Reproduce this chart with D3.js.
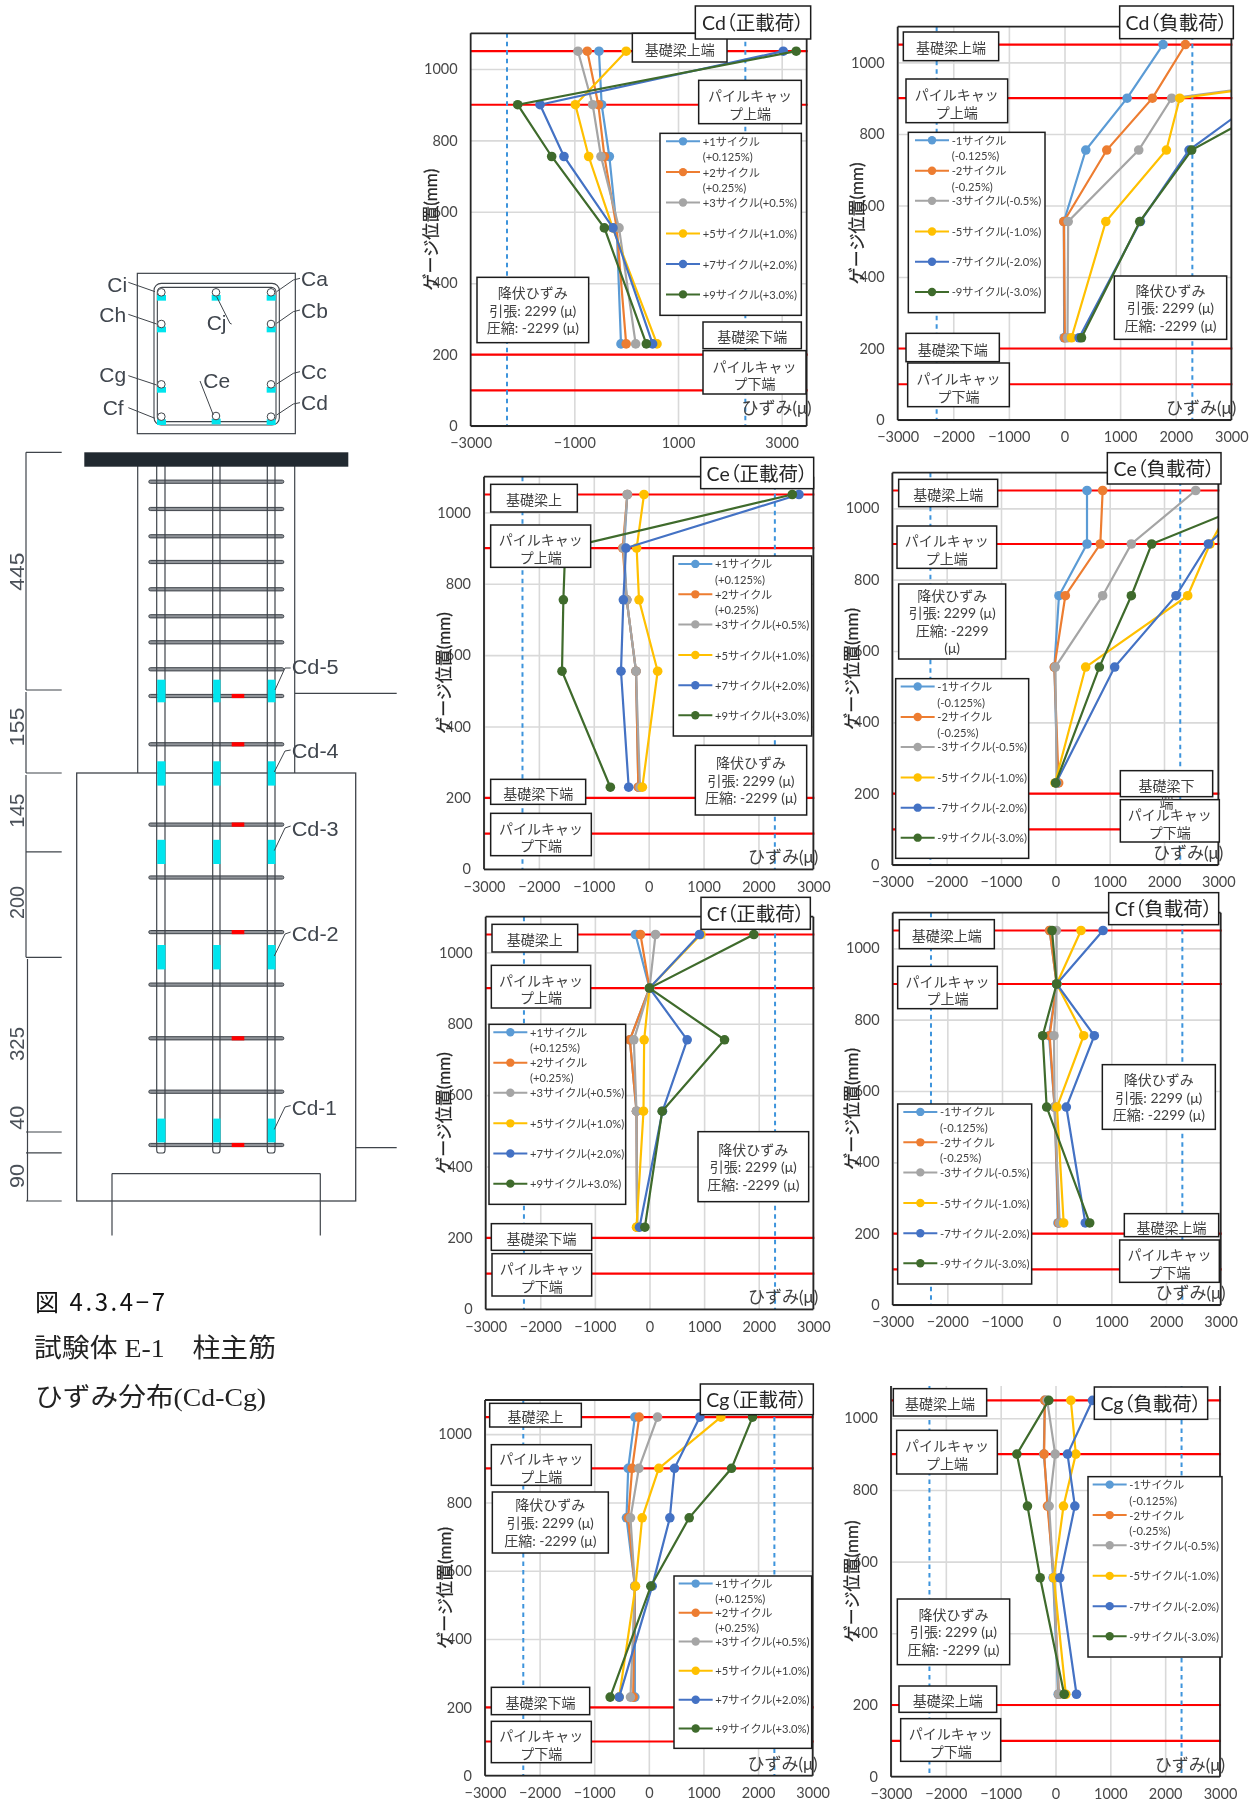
<!DOCTYPE html>
<html><head><meta charset="utf-8">
<script src="https://cdn.jsdelivr.net/npm/d3@7/dist/d3.min.js"></script>
<style>
html,body{margin:0;padding:0;background:#fff}
svg{display:block;filter:blur(.5px)}
text{font-family:Lato,"Noto Sans CJK JP",sans-serif}
.ttl{font-feature-settings:"palt"}
</style></head><body>
<svg id="c" width="1253" height="1807"></svg>
<script>
// ---------- data ----------
const gaugeHeights = [1050, 900, 755, 555, 230];
const redLevels = [1050, 900, 200, 100];
const yieldStrain = 2299;
const seriesColors = ["#5B9BD5", "#ED7D31", "#A5A5A5", "#FFC000", "#4472C4", "#3F6B2C"];
const yTicks = [0, 200, 400, 600, 800, 1000];
const xTicksAll = [-3000, -2000, -1000, 0, 1000, 2000, 3000];
const xTicksCd = [-3000, -1000, 1000, 3000];

const cdPos = [[-525,-473,-325,-183,-100],[-750,-537,-420,-183,0],[-930,-646,-486,-138,183],[0,-980,-723,-260,595],[3030,-1662,-1200,-254,510],[3280,-2093,-1437,-421,389]];
const cdNeg = [[1772,1126,383,-12,-6],[2174,1581,760,-12,6],[9300,1928,1335,66,54],[9300,2072,1832,743,126],[6000,3520,2240,1365,263],[6500,3988,2287,1353,305]];
const cePos = [[-389,-449,-400,-231,-188],[-389,-474,-400,-231,-188],[-389,-461,-400,-231,-158],[-85,-219,-176,164,-115],[2738,-413,-461,-504,-364],[2617,-1520,-1554,-1579,-698]];
const ceNeg = [[583,583,67,-18,43],[871,828,184,-18,61],[2583,1399,871,0,25],[3400,2847,2436,558,-6],[3900,2816,2221,1092,12],[4196,1773,1399,810,6]];
const cfPos = [[-256,0,-360,-238,-226],[-165,0,-360,-238,-226],[110,0,-287,-238,-226],[940,0,-98,-110,-238],[916,0,690,238,-183],[1911,0,1374,232,-85]];
const cfNeg = [[-128,0,-140,-37,24],[-128,0,-128,-37,37],[-6,0,-49,-37,55],[445,0,494,6,128],[848,0,689,177,524],[-85,0,-256,-183,604]];
const cgPos = [[-256,-378,-409,-256,-256],[-177,-305,-378,-256,-287],[159,-183,-336,-256,-336],[1319,183,-122,-244,-543],[934,470,385,61,-543],[1899,1514,739,37,-708]];
const cgNeg = [[-195,-213,-134,-43,49],[-195,-207,-146,-30,61],[-152,-6,-116,-36,61],[280,371,146,-30,188],[675,219,353,79,383],[-122,-705,-511,-280,158]];

const legendPos = ["+1サイクル","(+0.125%)","+2サイクル","(+0.25%)","+3サイクル(+0.5%)","+5サイクル(+1.0%)","+7サイクル(+2.0%)","+9サイクル(+3.0%)"];
const legendPosCf = ["+1サイクル","(+0.125%)","+2サイクル","(+0.25%)","+3サイクル(+0.5%)","+5サイクル(+1.0%)","+7サイクル(+2.0%)","+9サイクル+3.0%)"];
const legendNeg = ["-1サイクル","(-0.125%)","-2サイクル","(-0.25%)","-3サイクル(-0.5%)","-5サイクル(-1.0%)","-7サイクル(-2.0%)","-9サイクル(-3.0%)"];
const yieldLines = ["降伏ひずみ","引張: 2299 (μ)","圧縮: -2299 (μ)"];
const yieldLines4 = ["降伏ひずみ","引張: 2299 (μ)","圧縮: -2299","(μ)"];
const PU = ["パイルキャッ","プ上端"], PL = ["パイルキャッ","プ下端"];

// ---------- panel layout (in 3x crop units, relative to origin o) ----------
const panels = [
 {o:[420,0],values:cdPos,title:"Cd（正載荷）",legend:legendPos,xMax:3482,xT:xTicksCd,xG:[-1000,1000,3000],plot:[152,100,1160,1278],yt:30,sx:18,strainUp:19,
  tb:[826,18,1172,117],lg:[720,400,1144,946],
  boxes:[[637,100,921,186,["基礎梁上端"]],[836,241,1144,371,PU],[171,832,506,1028,yieldLines],[849,966,1144,1046,["基礎梁下端"]],[849,1052,1158,1182,PL]]},
 {o:[840,0],values:cdNeg,title:"Cd（負載荷）",legend:legendNeg,plot:[173,80,1174,1260],yt:48,sx:20,
  tb:[839,18,1180,116],lg:[205,397,615,938],
  boxes:[[190,96,476,182,["基礎梁上端"]],[198,237,503,368,PU],[823,828,1160,1018,yieldLines],[198,1000,478,1085,["基礎梁下端"]],[203,1089,508,1220,PL]]},
 {o:[420,450],values:cePos,title:"Ce（正載荷）",legend:legendPos,plot:[192,80,1180,1258],yt:70,sx:15,
  tb:[842,22,1181,116],lg:[760,318,1175,858],
  boxes:[[212,103,472,186,["基礎梁上"]],[212,225,512,352,PU],[826,886,1160,1095,yieldLines],[212,988,497,1063,["基礎梁下端"]],[212,1090,514,1217,PL]]},
 {o:[840,450],values:ceNeg,title:"Ce（負載荷）",legend:legendNeg,plot:[157,68,1135,1245],yt:35,sx:15,
  tb:[802,8,1143,102],lg:[167,686,566,1225],
  boxes:[[176,88,473,170,["基礎梁上端"]],[171,228,470,355,PU],[176,402,497,627,yieldLines4],[841,962,1118,1040,["基礎梁下","端"],1005],[841,1049,1138,1176,PL]]},
 {o:[420,890],values:cfPos,title:"Cf（正載荷）",legend:legendPosCf,plot:[197,80,1180,1258],yt:70,sx:13,
  tb:[843,22,1171,118],lg:[207,403,617,943],
  boxes:[[216,103,473,186,["基礎梁上"]],[214,226,512,354,PU],[834,725,1166,935,yieldLines],[214,1001,515,1081,["基礎梁下端"]],[216,1091,515,1218,PL]]},
 {o:[840,890],values:cfNeg,title:"Cf（負載荷）",legend:legendNeg,plot:[158,68,1142,1245],yt:35,sx:17,
  tb:[806,8,1136,104],lg:[173,642,575,1182],
  boxes:[[178,89,463,176,["基礎梁上端"]],[173,229,472,356,PU],[787,524,1126,718,yieldLines],[853,971,1136,1040,["基礎梁上端"],1013],[839,1050,1138,1177,PL]]},
 {o:[420,1370],values:cgPos,title:"Cg（正載荷）",legend:legendPos,plot:[195,90,1178,1217],yt:72,sx:14,
  tb:[841,42,1180,134],lg:[762,618,1175,1135],
  boxes:[[209,100,484,171,["基礎梁上"]],[214,224,514,346,PU],[217,366,565,549,yieldLines],[214,952,509,1034,["基礎梁下端"]],[214,1054,514,1178,PL]]},
 {o:[840,1370],values:cgNeg,title:"Cg（負載荷）",legend:legendNeg,plot:[153,48,1140,1220],yMax:1090,noTop:true,yt:35,sx:14,
  tb:[763,51,1103,148],lg:[744,320,1146,861],
  boxes:[[160,56,440,138,["基礎梁上端"]],[170,181,472,312,PU],[172,687,509,884,yieldLines],[177,948,470,1027,["基礎梁上端"]],[182,1046,482,1174,PL]]}
];
const legendRowsFrac = [.044,.13,.213,.298,.38,.55,.718,.885];
const legendSampleRows = [0,2,4,5,6,7];

const svg = d3.select("#c");
const z = v => v / 3;
const boxStroke = "#1c1c1c", txt = "#404040";

function drawPanel(p, i) {
  const g = svg.append("g").attr("transform", `translate(${p.o[0]},${p.o[1]})`);
  const [x0, y0, x1, y1] = p.plot.map(z);
  const xs = d3.scaleLinear().domain([-3000, p.xMax || 3000]).range([x0, x1]);
  const ys = d3.scaleLinear().domain([0, p.yMax || 1100]).range([y1, y0]);
  const cid = "clip" + i;
  g.append("clipPath").attr("id", cid).append("rect").attr("x", x0).attr("y", y0).attr("width", x1 - x0).attr("height", y1 - y0);

  // grid
  const gx = g.append("g").attr("transform", `translate(0,${y0})`)
    .call(d3.axisBottom(xs).tickValues(p.xG || xTicksAll).tickSize(y1 - y0).tickFormat(""));
  gx.select(".domain").remove();
  gx.selectAll("line").attr("stroke", "#d9d9d9").attr("stroke-width", 1.6);
  const gy = g.append("g").attr("transform", `translate(${x0},0)`)
    .call(d3.axisRight(ys).tickValues(yTicks).tickSize(x1 - x0).tickFormat(""));
  gy.select(".domain").remove();
  gy.selectAll("line").attr("stroke", "#d9d9d9").attr("stroke-width", 1.6);

  // tick labels
  const ax = g.append("g").attr("transform", `translate(0,${y1})`)
    .call(d3.axisBottom(xs).tickValues(p.xT || xTicksAll).tickSize(0).tickPadding(12).tickFormat(d3.format("d")));
  ax.select(".domain").remove();
  const ay = g.append("g").attr("transform", `translate(${x0},0)`)
    .call(d3.axisLeft(ys).tickValues(yTicks).tickSize(0).tickPadding(13).tickFormat(d3.format("d")));
  ay.select(".domain").remove();
  g.selectAll(".tick text").attr("fill", "#484848").attr("font-size", 14.5).attr("font-family", "Lato");

  // red reference levels
  g.append("g").selectAll("line").data(redLevels.filter(v => v <= (p.yMax || 1100))).join("line")
    .attr("x1", x0).attr("x2", x1 + 1).attr("y1", ys).attr("y2", ys)
    .attr("stroke", "#ff0000").attr("stroke-width", 2.2);

  // yield lines
  g.append("g").selectAll("line").data([-yieldStrain, yieldStrain]).join("line")
    .attr("x1", xs).attr("x2", xs).attr("y1", y0).attr("y2", y1)
    .attr("stroke", "#3d94dc").attr("stroke-width", 2).attr("stroke-dasharray", "4.5,4");

  // series
  const sg = g.append("g").attr("clip-path", `url(#${cid})`);
  const line = d3.line().x(d => xs(d[0])).y(d => ys(d[1]));
  p.values.forEach((vals, s) => {
    const pts = vals.map((v, k) => [v, gaugeHeights[k]]);
    sg.append("path").attr("d", line(pts)).attr("fill", "none")
      .attr("stroke", seriesColors[s]).attr("stroke-width", 2.2);
    sg.append("g").selectAll("circle").data(pts).join("circle")
      .attr("cx", d => xs(d[0])).attr("cy", d => ys(d[1])).attr("r", 4.8)
      .attr("fill", seriesColors[s]);
  });

  // frame
  const f = [[x0, y1, x1, y1], [x0, y0, x0, y1], [x1, y0, x1, y1]];
  if (!p.noTop) f.push([x0, y0, x1, y0]);
  g.append("g").selectAll("line").data(f).join("line")
    .attr("x1", d => d[0]).attr("y1", d => d[1]).attr("x2", d => d[2]).attr("y2", d => d[3])
    .attr("stroke", "#262626").attr("stroke-width", 1.8);

  // axis titles
  g.append("text").attr("transform", `translate(${z(p.yt)},${(y0 + y1) / 2}) rotate(-90)`)
    .attr("text-anchor", "middle").attr("dominant-baseline", "central")
    .attr("font-size", 17).attr("fill", "#262626").attr("stroke", "#262626").attr("stroke-width", .25)
    .attr("font-family", '"Noto Sans CJK JP"').text("ゲージ位置(mm)");
  g.append("text").attr("x", x1 + 5).attr("y", y1 - (p.strainUp || 12.5)).attr("text-anchor", "end")
    .attr("dominant-baseline", "central").attr("font-size", 17).attr("fill", txt).text("ひずみ(μ)");

  // legend
  const [lx0, ly0, lx1, ly1] = p.lg;
  g.append("rect").attr("x", z(lx0)).attr("y", z(ly0)).attr("width", z(lx1 - lx0)).attr("height", z(ly1 - ly0))
    .attr("fill", "#fff").attr("stroke", boxStroke).attr("stroke-width", 1.5);
  const rowY = r => z(ly0 + (ly1 - ly0) * legendRowsFrac[r]);
  p.legend.forEach((t, r) => {
    g.append("text").attr("x", z(lx0 + p.sx + 110)).attr("y", rowY(r))
      .attr("dominant-baseline", "central").attr("font-size", 11.2).attr("fill", txt).text(t);
  });
  legendSampleRows.forEach((r, s) => {
    const lg = g.append("g");
    lg.append("line").attr("x1", z(lx0 + p.sx)).attr("x2", z(lx0 + p.sx + 102)).attr("y1", rowY(r)).attr("y2", rowY(r))
      .attr("stroke", seriesColors[s]).attr("stroke-width", 2);
    lg.append("circle").attr("cx", z(lx0 + p.sx + 51)).attr("cy", rowY(r)).attr("r", 4.2).attr("fill", seriesColors[s]);
  });

  // text boxes: all frames first, then all texts on top
  const all = p.boxes.concat([[...p.tb, [p.title]]]);
  all.forEach(b => g.append("rect").attr("x", z(b[0])).attr("y", z(b[1])).attr("width", z(b[2] - b[0])).attr("height", z(b[3] - b[1]))
    .attr("fill", "#fff").attr("stroke", boxStroke).attr("stroke-width", 1.5));
  p.boxes.forEach(b => boxText(g, b));
  const tt = boxText(g, [...p.tb, [p.title]], 19.5, "#262626", 0);
  tt.attr("class", "ttl");
}

function boxText(g, b, fs, col, shift) {
  const [a, t, c, e, lines, forced] = b;
  const lh = 17.6;
  const off = shift !== undefined ? shift : (lines.length === 2 ? 2.5 : lines.length === 1 ? 1.5 : 0);
  const mid = z((t + e) / 2) + off;
  let last;
  lines.forEach((l, k) => {
    const yy = forced ? z(forced) + k * lh : mid + (k - (lines.length - 1) / 2) * lh;
    last = g.append("text").attr("x", z((a + c) / 2)).attr("y", yy).attr("text-anchor", "middle")
      .attr("dominant-baseline", "central").attr("font-size", fs || 14).attr("fill", col || txt).text(l);
  });
  return last;
}
panels.forEach(drawPanel);

// ---------- left drawing ----------
const d = svg.append("g");
const ink = "#3f444a";
const L = (x1, y1, x2, y2, w) => d.append("line").attr("x1", x1).attr("y1", y1).attr("x2", x2).attr("y2", y2)
  .attr("stroke", ink).attr("stroke-width", w || 1.2);
const R = (x, y, w, h, fill) => d.append("rect").attr("x", x).attr("y", y).attr("width", w).attr("height", h).attr("fill", fill);
const T = (t, x, y, fs, len) => {
  const e = d.append("text").attr("x", x).attr("y", y).attr("dominant-baseline", "central").attr("font-size", fs)
    .attr("fill", "#40464e").style("font-family", '"Liberation Sans"').text(t);
  if (len) e.attr("textLength", len).attr("lengthAdjust", "spacingAndGlyphs");
  return e;
};
const P = (pts, w) => d.append("path").attr("d", d3.line()(pts)).attr("fill", "none").attr("stroke", ink).attr("stroke-width", w || 1);

// cross-section
const sx = v => v / 3, sy = v => v / 3 + 250;
d.append("rect").attr("x", sx(412)).attr("y", sy(70)).attr("width", sx(474)).attr("height", sx(481)).attr("fill", "none").attr("stroke", ink).attr("stroke-width", 1.2);
[[462, 100, 376, 425, 22], [472, 112, 356, 403, 14]].forEach(r =>
  d.append("rect").attr("x", sx(r[0])).attr("y", sy(r[1])).attr("width", sx(r[2])).attr("height", sx(r[3])).attr("rx", sx(r[4]))
    .attr("fill", "none").attr("stroke", ink).attr("stroke-width", 1.1));
const barRows = [[484,127],[484,222],[484,403],[484,500],[648,127],[648,498],[813,127],[813,222],[813,403],[813,500]];
barRows.forEach(b => R(sx(b[0] - 13), sy(b[1] + 8), sx(27), sx(17), "#00e5ee"));
barRows.forEach(b => {
  d.append("circle").attr("cx", sx(b[0])).attr("cy", sy(b[1])).attr("r", 3.8).attr("fill", "#fff").attr("stroke", ink).attr("stroke-width", 1);
});
[["Ci",322,103],["Ch",298,192],["Cg",298,373],["Cf",308,471],["Cj",620,218],["Ce",610,390],["Ca",903,85],["Cb",903,180],["Cc",903,363],["Cd",903,458]]
  .forEach(a => T(a[0], sx(a[1]), sy(a[2]), 21));
[[[385,97],[465,125]],[[385,193],[470,222]],[[385,377],[470,405]],[[385,473],[465,505]],
 [[650,140],[690,220],[695,222]],[[600,393],[640,495]],
 [[900,85],[880,90],[830,125]],[[900,180],[880,185],[830,220]],[[900,365],[880,370],[830,402]],[[900,458],[880,462],[830,495]]]
  .forEach(l => P(l.map(q => [sx(q[0]), sy(q[1])])));

// elevation
const hoops = [481.7,509,536.3,562,589.3,616.3,642.3,669.3,696,744.3,824.6,877.5,932.1,984.6,1038.3,1091.7,1145];
const cyanY = [[679.7,22.6],[761.3,24.3],[839.8,24.2],[945,24.4],[1118.6,23.8]];
const redY = [696,744.3,824.6,932.1,1038.3,1145];
const barLines = [[156.7,165],[212.7,220],[267.3,275]];

L(137.7, 466, 137.7, 773); L(294.7, 466, 294.7, 773);
d.append("rect").attr("x", 76.7).attr("y", 773).attr("width", 279).attr("height", 428).attr("fill", "none").attr("stroke", ink).attr("stroke-width", 1.3);
L(112, 1173.6, 320.3, 1173.6); L(112, 1173.6, 112, 1235.6); L(320.3, 1173.6, 320.3, 1235.6);
L(295, 693.3, 396.7, 693.3); L(355.7, 1147.6, 396.7, 1147.6);
hoops.forEach(y => d.append("rect").attr("x", 148.8).attr("y", y - 1.6).attr("width", 135).attr("height", 3.2).attr("rx", 1.5)
  .attr("fill", "#8f9398").attr("stroke", ink).attr("stroke-width", 1));
barLines.forEach(b => {
  L(b[0], 466, b[0], 1150); L(b[1], 466, b[1], 1150);
  d.append("path").attr("d", `M${b[0]},1150 Q${b[0]},1153 ${b[0]+2},1153 L${b[1]-2},1153 Q${b[1]},1153 ${b[1]},1150`).attr("fill", "none").attr("stroke", ink).attr("stroke-width", 1.1);
});
cyanY.forEach(c => barLines.forEach(b => R(b[0] + .5, c[0], b[1] - b[0], c[1], "#00e5ee")));
redY.forEach(y => R(231.7, y - 2.1, 12.6, 4.2, "#ff0000"));
R(84.3, 452.3, 264, 14.4, "#212930");

[["Cd-5",666.7,[[290.7,668],[285,668],[275,690]]],["Cd-4",750.5,[[290.7,750],[285,751],[274.3,772]]],
 ["Cd-3",829,[[290.7,826],[285,828],[274.3,850.6]]],["Cd-2",934,[[290.7,932],[285,934],[274.3,956]]],["Cd-1",1107.7,[[290.7,1105.6],[285,1107],[274.3,1129.4]]]]
  .forEach(a => { T(a[0], 291.7, a[1], 20, a[0] === "Cd-1" ? 45 : 47); P(a[2]); });

// dimensions
[452.3, 690, 773, 851.9, 957.3, 1132, 1152.8, 1201].forEach(y => L(26, y, 61.7, y));
L(26, 452.3, 26, 690); L(26, 692, 26, 773); L(26, 775, 26, 957.3); L(27.5, 959, 27.5, 1201);
[["445",571.7,38],["155",727,39],["145",810.7,34],["200",902.6,33],["325",1044,34],["40",1117.7,24],["90",1176,24]]
  .forEach(a => d.append("text").attr("transform", `translate(16.7,${a[1]}) rotate(-90)`).attr("text-anchor", "middle")
    .attr("dominant-baseline", "central").attr("font-size", 21).attr("fill", "#4a5058").style("font-family", '"Liberation Sans"')
    .attr("textLength", a[2]).attr("lengthAdjust", "spacingAndGlyphs").text(a[0]));

// caption
d.append("text").attr("x", 35).attr("y", 1300).attr("dominant-baseline", "central").attr("font-size", 24).attr("fill", "#111")
  .style("font-family", '"Noto Sans CJK JP"').attr("textLength", 130).text("図 4.3.4−7");
d.append("text").attr("x", 34).attr("y", 1348).attr("dominant-baseline", "central").attr("font-size", 26).attr("fill", "#222")
  .style("font-family", '"Liberation Serif","Noto Sans CJK JP"').attr("textLength", 242).attr("lengthAdjust", "spacingAndGlyphs").text("試験体 E-1　柱主筋");
d.append("text").attr("x", 35).attr("y", 1397).attr("dominant-baseline", "central").attr("font-size", 26).attr("fill", "#222")
  .style("font-family", '"Liberation Serif","Noto Sans CJK JP"').attr("textLength", 231).attr("lengthAdjust", "spacingAndGlyphs").text("ひずみ分布(Cd-Cg)");
</script>
</body></html>
